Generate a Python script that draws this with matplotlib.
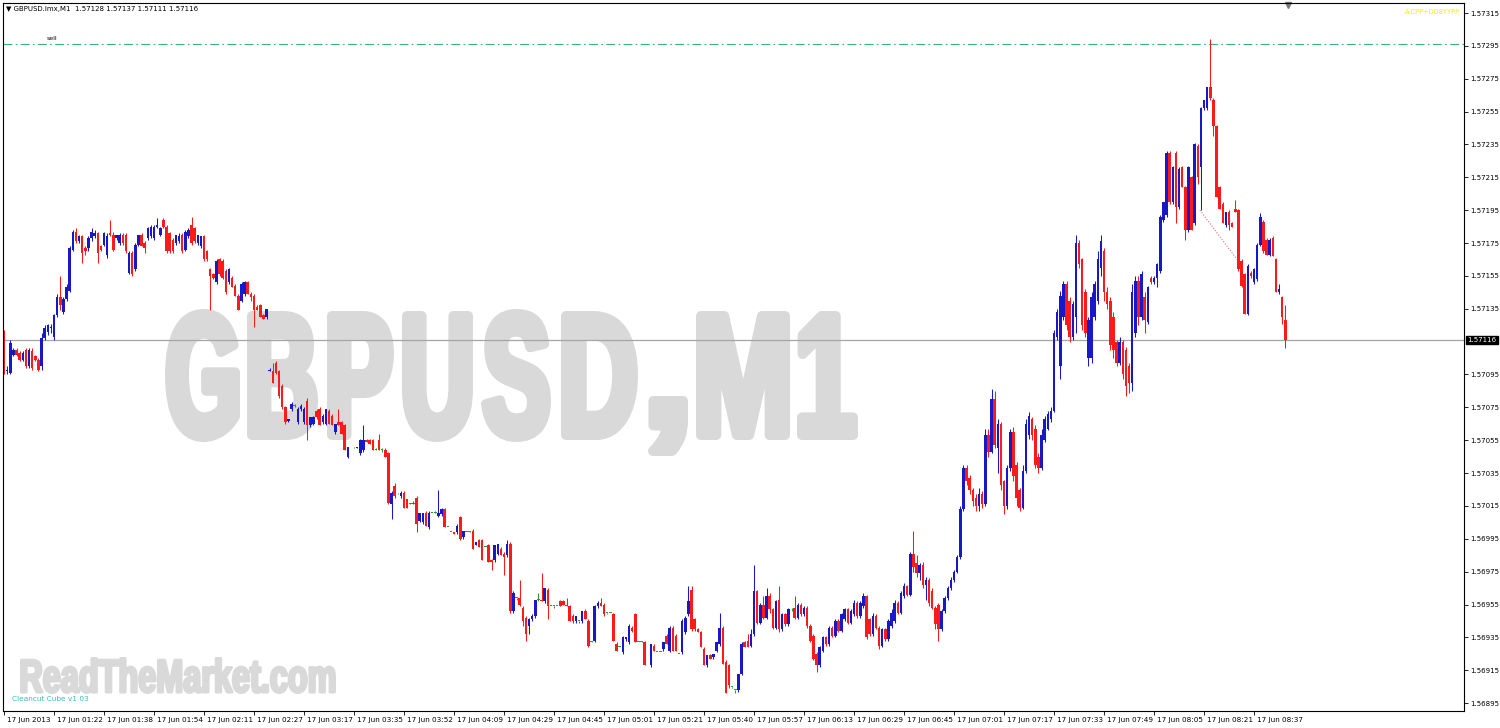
import matplotlib
matplotlib.use("Agg")
import matplotlib.pyplot as plt
import numpy as np
from matplotlib.font_manager import FontProperties
from matplotlib.patches import PathPatch
from matplotlib.textpath import TextPath
from matplotlib.transforms import Affine2D, ScaledTranslation, blended_transform_factory

# GBPUSD M1 bars, prices in points (0.00001) above BASE
BASE = 1.56800

opens = [
    320, 297, 296, 307, 310, 308, 304, 310, 300, 309, 306, 304, 300, 317, 321, 323, 318, 331, 342, 333,
    341, 346, 371, 382, 376, 379, 372, 372, 378, 379, 381, 373, 374, 368, 381, 380, 378, 375, 380, 380,
    357, 369, 359, 374, 380, 375, 378, 379, 378, 385, 380, 389, 385, 381, 377, 375, 376, 380, 371, 379,
    386, 384, 375, 373, 379, 370, 359, 356, 351, 365, 364, 358, 351, 354, 349, 343, 340, 344, 351, 344,
    343, 336, 337, 331, 330, 297, 297, 302, 297, 288, 275, 267, 274, 276, 266, 274, 266, 279, 264, 265,
    273, 274, 266, 265, 273, 270, 260, 266, 266, 264, 245, 250, 250, 250, 247, 249, 255, 255, 255, 249,
    255, 249, 249, 247, 216, 227, 222, 221, 223, 219, 216, 217, 220, 206, 205, 211, 202, 211, 211, 209,
    210, 213, 202, 199, 199, 199, 208, 196, 199, 199, 200, 191, 194, 194, 190, 191, 182, 182, 186, 189,
    186, 185, 192, 151, 159, 159, 153, 147, 142, 146, 148, 158, 158, 157, 164, 154, 154, 154, 157, 157,
    155, 154, 148, 145, 145, 145, 151, 145, 132, 133, 154, 156, 155, 150, 150, 149, 131, 129, 126, 134,
    132, 141, 149, 132, 132, 132, 118, 118, 130, 126, 126, 128, 136, 127, 141, 136, 125, 126, 138, 149,
    164, 146, 140, 138, 128, 118, 124, 123, 127, 131, 141, 120, 118, 105, 103, 103, 113, 132, 133, 130,
    137, 163, 144, 155, 147, 160, 152, 141, 158, 140, 149, 143, 152, 153, 147, 155, 149, 153, 142, 136,
    125, 118, 127, 135, 131, 141, 136, 145, 139, 146, 152, 144, 149, 156, 148, 154, 160, 146, 137, 148,
    141, 130, 140, 134, 142, 145, 156, 150, 160, 166, 161, 186, 180, 174, 179, 167, 170, 163, 153, 155,
    140, 151, 159, 165, 170, 175, 184, 213, 238, 232, 225, 220, 215, 222, 216, 258, 248, 280, 250, 265,
    230, 215, 238, 260, 240, 225, 214, 236, 258, 268, 262, 245, 238, 255, 262, 268, 273, 318, 300, 330,
    350, 340, 318, 330, 375, 365, 345, 305, 305, 330, 340, 360, 370, 345, 340, 330, 315, 302, 315, 310,
    300, 290, 320, 352, 330, 342, 327, 354, 351, 354, 358, 389, 392, 430, 400, 430, 397, 421, 409, 383,
    415, 387, 434, 421, 457, 457, 470, 462, 446, 409, 399, 386, 394, 387, 396, 395, 364, 356, 332, 357,
    351, 353, 374, 388, 377, 368, 378, 365, 345, 342, 328,
]
highs = [
    322, 300, 316, 311, 311, 309, 309, 311, 311, 311, 307, 305, 320, 325, 326, 326, 332, 344, 355, 342,
    350, 373, 383, 384, 380, 380, 373, 379, 384, 383, 382, 374, 382, 381, 389, 382, 380, 381, 381, 381,
    370, 370, 375, 380, 381, 376, 385, 386, 386, 390, 385, 390, 386, 382, 378, 380, 381, 381, 383, 384,
    391, 385, 380, 379, 380, 371, 360, 357, 365, 366, 365, 359, 360, 355, 350, 344, 351, 352, 352, 345,
    344, 337, 338, 332, 335, 299, 302, 303, 298, 289, 276, 268, 278, 277, 275, 277, 275, 281, 269, 270,
    274, 275, 271, 274, 274, 271, 265, 274, 267, 265, 251, 250, 251, 251, 256, 264, 256, 256, 256, 250,
    259, 250, 250, 248, 224, 229, 223, 224, 224, 219, 217, 218, 221, 211, 211, 212, 212, 211, 212, 225,
    214, 214, 202, 199, 199, 204, 209, 200, 199, 200, 201, 193, 195, 195, 190, 192, 183, 191, 192, 190,
    187, 194, 193, 163, 159, 170, 154, 148, 147, 149, 158, 162, 174, 165, 165, 154, 154, 154, 158, 158,
    159, 155, 149, 148, 145, 151, 152, 146, 133, 155, 157, 159, 156, 150, 150, 150, 132, 129, 136, 135,
    143, 142, 150, 132, 133, 133, 118, 131, 131, 126, 126, 132, 137, 142, 142, 137, 125, 146, 148, 166,
    166, 147, 141, 139, 129, 124, 125, 125, 132, 150, 142, 121, 119, 105, 103, 113, 132, 133, 137, 140,
    179, 164, 156, 160, 165, 162, 153, 158, 166, 150, 150, 153, 153, 160, 156, 156, 154, 154, 143, 137,
    126, 130, 136, 136, 142, 142, 146, 146, 150, 153, 153, 152, 158, 157, 157, 162, 161, 147, 150, 149,
    142, 141, 141, 146, 152, 158, 157, 163, 168, 167, 187, 200, 185, 180, 181, 172, 171, 165, 154, 156,
    152, 160, 166, 172, 176, 185, 215, 240, 240, 234, 226, 222, 226, 224, 262, 262, 286, 285, 268, 266,
    231, 240, 262, 263, 242, 226, 240, 268, 272, 269, 264, 247, 262, 270, 273, 275, 322, 335, 346, 352,
    352, 342, 340, 380, 377, 366, 347, 330, 345, 352, 370, 380, 372, 348, 342, 333, 316, 318, 316, 312,
    302, 350, 355, 355, 358, 345, 349, 355, 355, 363, 392, 400, 431, 431, 422, 431, 421, 422, 410, 422,
    416, 436, 435, 458, 462, 470, 499, 463, 447, 410, 400, 394, 395, 388, 401, 396, 365, 357, 362, 358,
    360, 375, 393, 389, 378, 378, 379, 366, 350, 343, 337,
]
lows = [
    295, 295, 295, 306, 306, 303, 303, 299, 299, 298, 303, 297, 298, 316, 319, 320, 316, 330, 334, 332,
    340, 345, 370, 375, 375, 363, 368, 370, 376, 378, 363, 370, 373, 366, 379, 370, 377, 374, 374, 369,
    356, 355, 358, 373, 373, 369, 377, 378, 377, 384, 379, 384, 369, 369, 369, 374, 375, 369, 370, 378,
    374, 375, 374, 372, 364, 364, 334, 353, 350, 355, 353, 344, 350, 348, 343, 334, 339, 343, 344, 340,
    324, 334, 330, 329, 329, 297, 290, 295, 281, 274, 265, 266, 273, 275, 265, 273, 265, 255, 263, 264,
    268, 264, 265, 264, 265, 264, 259, 264, 259, 249, 244, 250, 250, 250, 246, 248, 254, 253, 249, 249,
    249, 248, 245, 216, 207, 220, 222, 220, 214, 214, 216, 216, 199, 205, 204, 203, 201, 211, 211, 208,
    209, 202, 202, 199, 198, 198, 194, 195, 199, 199, 189, 191, 190, 182, 190, 181, 176, 181, 185, 185,
    173, 184, 150, 150, 158, 154, 142, 133, 137, 145, 147, 157, 157, 156, 146, 154, 153, 154, 154, 155,
    154, 145, 144, 144, 144, 144, 146, 129, 132, 132, 153, 154, 148, 149, 150, 133, 127, 129, 125, 133,
    131, 138, 132, 132, 132, 118, 118, 117, 127, 126, 126, 127, 131, 126, 127, 127, 125, 125, 137, 148,
    139, 139, 138, 129, 118, 117, 122, 122, 126, 130, 119, 101, 104, 104, 101, 102, 112, 129, 129, 129,
    136, 143, 143, 146, 146, 150, 140, 140, 138, 139, 142, 142, 151, 146, 146, 148, 148, 141, 132, 121,
    114, 117, 126, 130, 130, 135, 135, 138, 138, 145, 143, 143, 148, 147, 147, 153, 134, 136, 136, 140,
    128, 129, 133, 133, 141, 144, 149, 149, 159, 160, 160, 175, 172, 170, 165, 158, 154, 152, 140, 133,
    139, 150, 158, 164, 169, 174, 183, 212, 228, 222, 215, 212, 212, 214, 215, 245, 247, 250, 235, 225,
    210, 213, 236, 230, 215, 212, 213, 235, 256, 255, 238, 235, 237, 254, 261, 266, 272, 316, 292, 328,
    322, 315, 316, 320, 360, 322, 318, 300, 302, 328, 338, 355, 340, 335, 310, 305, 300, 301, 292, 282,
    284, 285, 318, 325, 328, 320, 326, 350, 350, 348, 357, 388, 391, 399, 399, 387, 396, 409, 377, 382,
    383, 386, 411, 395, 456, 456, 462, 440, 403, 396, 387, 385, 383, 385, 394, 358, 348, 332, 331, 354,
    350, 352, 373, 369, 368, 367, 367, 345, 344, 326, 311,
]
closes = [
    297, 298, 314, 310, 307, 304, 308, 300, 310, 299, 304, 298, 317, 323, 325, 324, 331, 342, 337, 341,
    348, 372, 382, 376, 379, 369, 370, 378, 382, 381, 369, 371, 381, 379, 380, 371, 380, 380, 375, 370,
    369, 356, 374, 380, 373, 372, 384, 385, 385, 386, 384, 385, 370, 370, 370, 380, 379, 370, 382, 383,
    375, 376, 380, 379, 365, 365, 355, 354, 364, 356, 354, 345, 359, 348, 343, 334, 350, 351, 344, 342,
    334, 334, 330, 329, 335, 298, 290, 296, 282, 275, 266, 268, 277, 276, 274, 276, 274, 264, 269, 269,
    269, 264, 270, 274, 265, 264, 265, 264, 259, 249, 251, 250, 250, 251, 255, 255, 254, 253, 249, 249,
    249, 249, 245, 217, 223, 221, 222, 223, 214, 214, 216, 216, 204, 211, 211, 203, 211, 211, 211, 211,
    213, 202, 202, 199, 198, 203, 195, 200, 199, 199, 189, 193, 190, 182, 190, 181, 181, 191, 192, 185,
    184, 192, 151, 162, 159, 155, 145, 137, 146, 148, 158, 158, 157, 165, 154, 154, 154, 154, 154, 155,
    154, 145, 145, 148, 145, 151, 146, 130, 132, 154, 156, 154, 149, 150, 150, 133, 127, 129, 135, 135,
    142, 139, 132, 132, 132, 118, 118, 131, 127, 126, 126, 132, 131, 141, 127, 127, 125, 145, 147, 157,
    140, 140, 138, 129, 118, 124, 122, 125, 132, 141, 119, 101, 106, 105, 103, 113, 131, 129, 129, 137,
    163, 144, 155, 147, 160, 152, 141, 157, 140, 149, 143, 152, 152, 147, 155, 149, 153, 142, 133, 122,
    118, 129, 135, 131, 141, 136, 145, 139, 149, 152, 144, 151, 156, 148, 156, 160, 135, 137, 148, 141,
    130, 140, 134, 145, 150, 156, 150, 162, 166, 161, 186, 178, 174, 179, 167, 170, 156, 153, 143, 140,
    151, 159, 165, 170, 175, 184, 213, 238, 230, 225, 218, 215, 222, 216, 258, 248, 280, 252, 265, 228,
    215, 238, 260, 233, 220, 214, 236, 265, 270, 258, 240, 238, 258, 268, 271, 273, 320, 333, 343, 350,
    325, 318, 338, 375, 362, 325, 320, 328, 342, 350, 365, 376, 345, 338, 313, 310, 302, 315, 295, 288,
    290, 345, 352, 330, 356, 328, 348, 351, 354, 362, 391, 400, 430, 400, 421, 397, 420, 409, 383, 421,
    383, 435, 415, 457, 462, 470, 463, 446, 403, 396, 387, 394, 386, 385, 394, 359, 349, 332, 361, 355,
    359, 374, 391, 370, 368, 377, 367, 345, 347, 330, 316,
]

time_labels = [
    "17 Jun 2013", "17 Jun 01:22", "17 Jun 01:38", "17 Jun 01:54", "17 Jun 02:11", "17 Jun 02:27",
    "17 Jun 03:17", "17 Jun 03:35", "17 Jun 03:52", "17 Jun 04:09", "17 Jun 04:29", "17 Jun 04:45",
    "17 Jun 05:01", "17 Jun 05:21", "17 Jun 05:40", "17 Jun 05:57", "17 Jun 06:13", "17 Jun 06:29",
    "17 Jun 06:45", "17 Jun 07:01", "17 Jun 07:17", "17 Jun 07:33", "17 Jun 07:49", "17 Jun 08:05",
    "17 Jun 08:21", "17 Jun 08:37",
]
label_every = 16  # bars between time labels

price_ticks = [1.56895, 1.56915, 1.56935, 1.56955, 1.56975, 1.56995, 1.57015, 1.57035, 1.57055,
               1.57075, 1.57095, 1.57135, 1.57155, 1.57175, 1.57195, 1.57215, 1.57235, 1.57255,
               1.57275, 1.57295, 1.57315]

last_price = 1.57116
sell_level = 1.57296
trend_x = [382.7, 394.6]
trend_y = [1.57195, 1.57165]

# colours
UP = "#1818c8"
DOWN = "#ff1a1a"
DOJI = "#2f9a2f"
WATERMARK = "#d9d9d9"

W, H = 1500, 728
fig = plt.figure(figsize=(W / 100, H / 100), dpi=100)
fig.patch.set_facecolor("white")
ax = fig.add_axes([3 / W, 17 / H, 1461 / W, 708 / H])


def ax_x(px):
    return (px - 3) / 1461


def ax_y(py):
    return (711 - py) / 708


BOLD = FontProperties(family=["Liberation Sans", "DejaVu Sans"], weight="bold")


def boxed_path(s, left, top, right, bottom, color, grow):
    # squeeze a text path into a pixel box (image coords, y down), thickened by 'grow' px
    path = TextPath((0, 0), s, size=100, prop=BOLD)
    ext = path.get_extents()
    x0 = left + grow / 2
    x1 = right - grow / 2
    y0 = H - bottom + grow / 2
    y1 = H - top - grow / 2
    tr = (Affine2D().translate(-ext.x0, -ext.y0)
          .scale((x1 - x0) / ext.width, (y1 - y0) / ext.height)
          .translate(x0, y0).scale(1 / 100) + fig.dpi_scale_trans)
    patch = PathPatch(path, transform=tr, facecolor=color, edgecolor=color,
                      linewidth=grow * 0.72, joinstyle="round", zorder=0.5)
    ax.add_artist(patch)


# big watermark, one glyph per box
wm_chars = ["G", "B", "P", "U", "S", "D", ",", "M", "1"]
wm_left = [165, 247, 327, 402, 481, 561, 648, 696, 797]
wm_right = [240, 318, 394, 473, 551, 638, 688, 790, 858]
wm_top = [309, 311, 311, 311, 309, 311, 396, 311, 311]
wm_bottom = [442, 440, 440, 442, 442, 440, 456, 440, 440]
for ch, a, t, b, bt in zip(wm_chars, wm_left, wm_top, wm_right, wm_bottom):
    boxed_path(ch, a, t, b, bt, WATERMARK, 10)

boxed_path("ReadTheMarket.com", 20, 657, 336, 694, WATERMARK, 3)

o = BASE + np.array(opens) * 1e-5
h = BASE + np.array(highs) * 1e-5
l = BASE + np.array(lows) * 1e-5
c = BASE + np.array(closes) * 1e-5
x = np.arange(len(c))

cols = np.where(c > o, UP, np.where(c < o, DOWN, DOJI))
ax.vlines(x, l, h, colors=cols, linewidth=0.75, zorder=2)
body = np.maximum(np.abs(c - o), 0.5e-5)
ax.bar(x, body, bottom=np.minimum(o, c), width=0.8, color=cols, linewidth=0, zorder=2)

# levels
ax.axhline(last_price, color="#a5a5a5", linewidth=0.9, zorder=1.5)
ax.axhline(sell_level, color="#3cb371", linewidth=0.8, linestyle=(0, (8, 3, 1.5, 3)), zorder=1.5)
ax.plot(trend_x, trend_y, color="#e07070", linewidth=0.8, linestyle=(0, (1, 1.5)), zorder=1.6)
ax.text(ax_x(47), ax_y(38), "sell", transform=ax.transAxes, fontsize=4.5, color="black",
        va="center", ha="left")

# header and labels
ax.text(ax_x(6), ax_y(9), "\u25bc GBPUSD.lmx,M1  1.57128 1.57137 1.57111 1.57116",
        transform=ax.transAxes, fontsize=5, color="black", va="center", ha="left")
ax.text(ax_x(1460), ax_y(12), "A.CPP+DD8YYPP", transform=ax.transAxes, fontsize=4.8,
        color="#f0f000", va="center", ha="right")
ax.text(ax_x(12), ax_y(699), "Cleancut Cube v1 03", transform=ax.transAxes, fontsize=5.3,
        color="#3fbcbc", va="center", ha="left")
ax.plot([ax_x(1288)], [ax_y(5)], marker="v", markersize=4.5, color="#7a7a7a",
        transform=ax.transAxes, clip_on=False)

# current price tag
tag_tr = blended_transform_factory(ax.transAxes, ax.transData)
ax.text(ax_x(1467), last_price, f"{last_price:.5f}", transform=tag_tr, fontsize=5,
        color="white", va="center", ha="left", zorder=5,
        bbox=dict(boxstyle="square,pad=0.2", facecolor="black", edgecolor="black"))

# axes
ax.set_xlim(-0.32, 467.2)
ax.set_ylim(1.568902, 1.573211)
ax.set_xticks(np.arange(len(time_labels)) * label_every)
ax.set_xticklabels(time_labels)
ax.yaxis.tick_right()
ax.set_yticks(price_ticks)
ax.set_yticklabels([f"{p:.5f}" for p in price_ticks])
ax.tick_params(axis="x", length=3, width=0.6, pad=1.5, labelsize=5.2, colors="black")
ax.tick_params(axis="y", length=3, width=0.6, pad=1.5, labelsize=5.0, colors="black")
shift = ScaledTranslation(2 / 72, 0, fig.dpi_scale_trans)
for lab in ax.get_xticklabels():
    lab.set_horizontalalignment("left")
    lab.set_transform(lab.get_transform() + shift)
for sp in ax.spines.values():
    sp.set_color("black")
    sp.set_linewidth(0.8)

fig.savefig("out.png", dpi=100, facecolor="white")
